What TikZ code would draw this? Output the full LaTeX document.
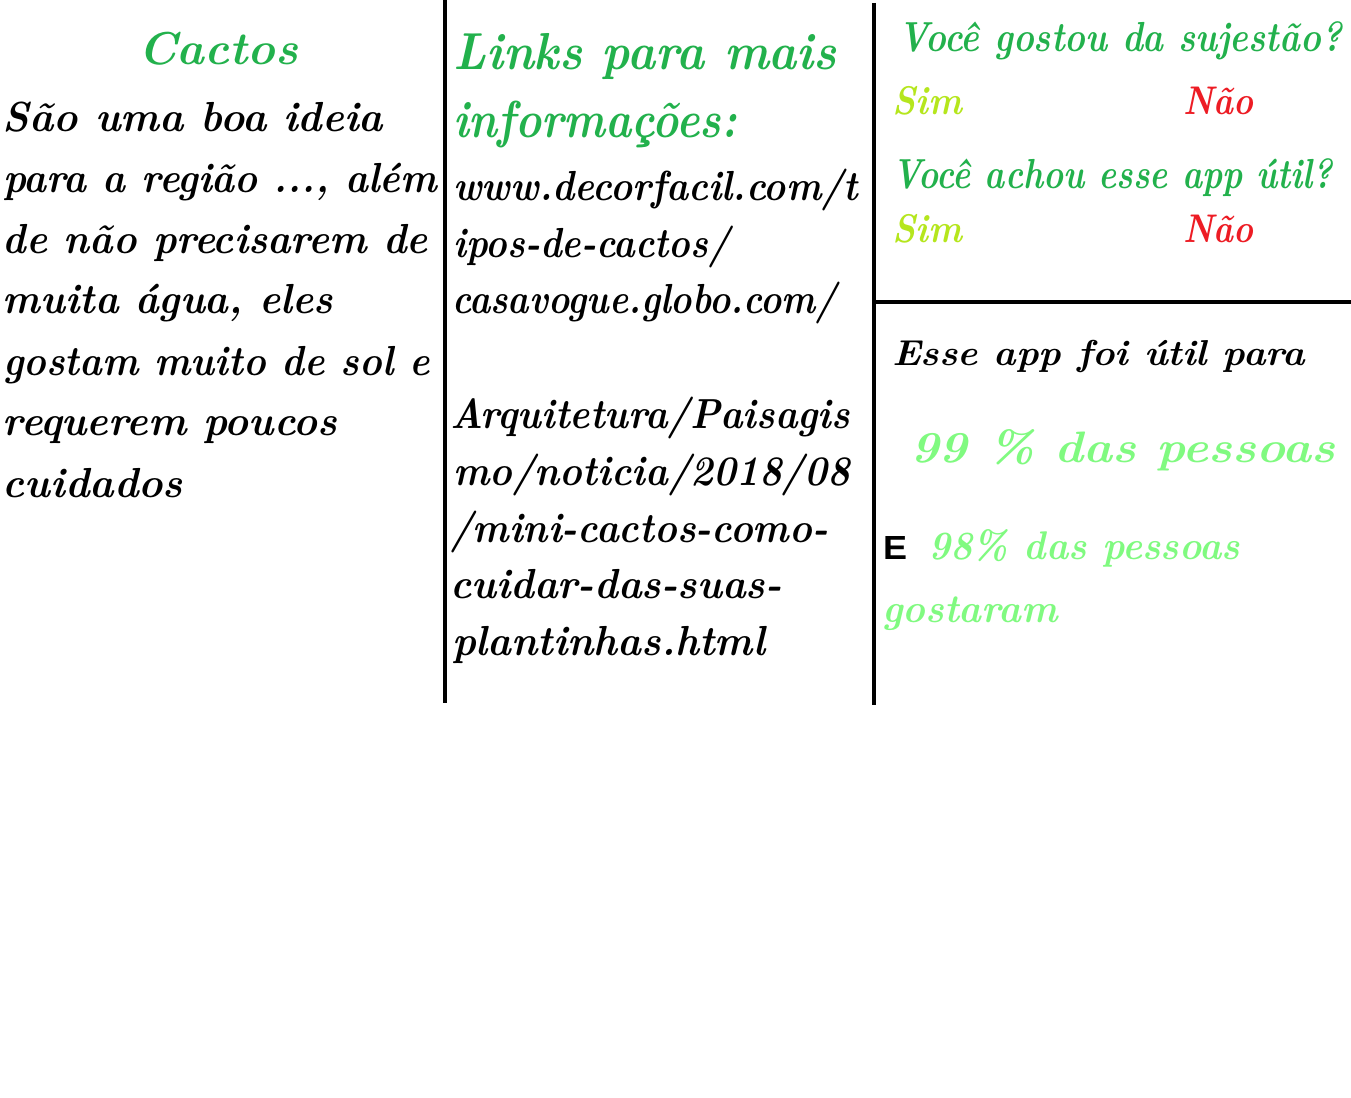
\documentclass[tikz,border=0pt]{standalone}
\usepackage{fontspec}
\usepackage{graphicx}
\newfontfamily\esans{Liberation Sans}
\definecolor{hgreen}{RGB}{34,177,76}
\definecolor{hlime}{RGB}{181,230,29}
\definecolor{hred}{RGB}{237,28,36}
\definecolor{hlight}{RGB}{128,250,128}
\newcommand\hwfont[1]{\fontsize{#1}{#1}\selectfont\bfseries\itshape}
\newcommand\fitw[2]{\resizebox{#1pt}{\height}{#2}}
\tikzset{
  txt/.style={anchor=base west, inner sep=0pt, outer sep=0pt},
  hw/.style={txt, font=\hwfont{#1}},
  rule/.style={line width=4pt, black}
}
\begin{document}
\begin{tikzpicture}[x=1pt,y=-1pt]
\useasboundingbox (0,0) rectangle (1351,1097);
\fill[white] (0,0) rectangle (1351,1097);
% rules
\coordinate (v1t) at (445,0);
\coordinate (v1b) at (445,703);
\coordinate (v2t) at (874,3);
\coordinate (v2b) at (874,705);
\coordinate (hl) at (874,302);
\coordinate (hr) at (1351,302);
\draw[rule] (v1t) -- (v1b);
\draw[rule] (v2t) -- (v2b);
\draw[rule] (hl) -- (hr);
% left column
\node[hw=46, text=hgreen] (cactos) at (138,65) {\fitw{160}{Cactos}};
\node[hw=42] (l1) at (3,132) {\fitw{380}{São uma boa ideia}};
\node[hw=42] (l2) at (3,193) {\fitw{434}{para a região ..., além}};
\node[hw=42] (l3) at (3,253) {\fitw{425}{de não precisarem de}};
\node[hw=42] (l4) at (3,313) {\fitw{330}{muita água, eles}};
\node[hw=42] (l5) at (3,375) {\fitw{427}{gostam muito de sol e}};
\node[hw=42] (l6) at (3,435) {\fitw{334}{requerem poucos}};
\node[hw=42] (l7) at (3,497) {\fitw{180}{cuidados}};
% middle column
\node[hw=52, text=hgreen] (k1) at (453,70) {\fitw{384}{Links para mais}};
\node[hw=52, text=hgreen] (k2) at (453,138) {\fitw{284}{informações:}};
\node[hw=42] (u1) at (453,200) {\fitw{405}{www.decorfacil.com/t}};
\node[hw=42] (u2) at (453,257) {\fitw{277}{ipos-de-cactos/}};
\node[hw=42] (u3) at (452,313) {\fitw{385}{casavogue.globo.com/}};
\node[hw=42] (u4) at (450,428) {\fitw{400}{Arquitetura/Paisagis}};
\node[hw=42] (u5) at (453,485) {\fitw{397}{mo/noticia/2018/08}};
\node[hw=42] (u6) at (450,542) {\fitw{378}{/mini-cactos-como-}};
\node[hw=42] (u7) at (450,598) {\fitw{332}{cuidar-das-suas-}};
\node[hw=42] (u8) at (452,655) {\fitw{313}{plantinhas.html}};
% right column, top
\node[hw=42, text=hgreen] (q1) at (898,52) {\fitw{444}{Você gostou da sujestão?}};
\node[hw=40, text=hlime] (s1) at (892,115) {\fitw{70}{Sim}};
\node[hw=40, text=hred] (n1) at (1183,115) {\fitw{70}{Não}};
\node[hw=42, text=hgreen] (q2) at (892,188) {\fitw{441}{Você achou esse app útil?}};
\node[hw=40, text=hlime] (s2) at (892,242) {\fitw{70}{Sim}};
\node[hw=40, text=hred] (n2) at (1183,242) {\fitw{70}{Não}};
% right column, bottom
\node[hw=36] (esse) at (892,365) {\fitw{413}{Esse app foi útil para}};
\node[hw=44, text=hlight] (p99) at (910,462) {\fitw{425}{99 \% das pessoas}};
\node[txt, font=\esans\bfseries\fontsize{32}{32}\selectfont] (e) at (883,559) {\resizebox{24pt}{23pt}{E}};
\node[hw=40, text=hlight] (p98) at (928,559) {\fitw{312}{98\% das pessoas}};
\node[hw=40, text=hlight] (gost) at (882,622) {\fitw{176}{gostaram}};
\end{tikzpicture}
\end{document}
